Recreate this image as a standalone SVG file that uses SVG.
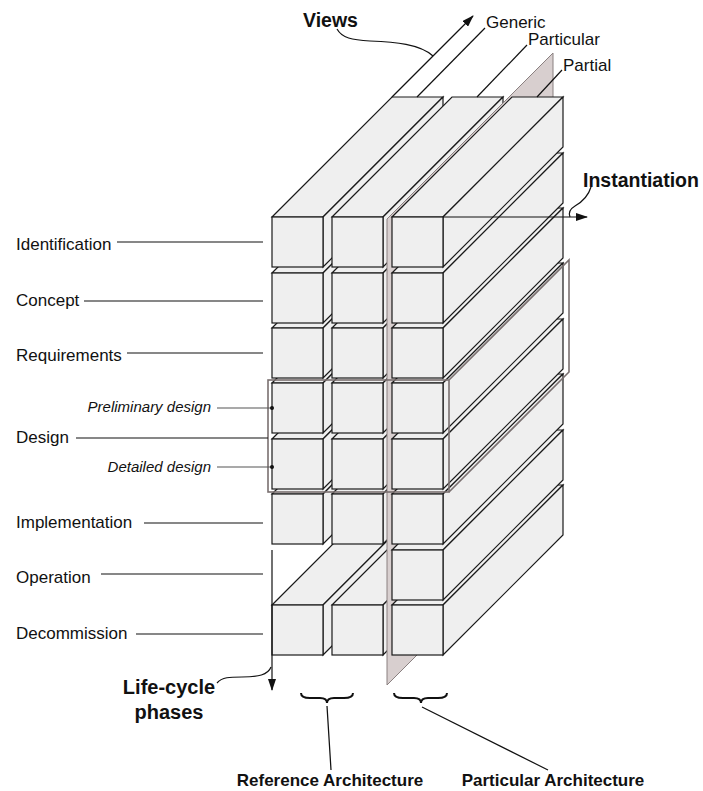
<svg xmlns="http://www.w3.org/2000/svg" width="703" height="791" viewBox="0 0 703 791">
  <defs>
    <style>
      .face{fill:#efefef;stroke:#1a1a1a;stroke-width:1.2;stroke-linejoin:miter}
      .lbl{font-family:"Liberation Sans",Arial,sans-serif;font-size:17px;fill:#111}
      .sub{font-style:italic;font-size:15px}
      .bold{font-weight:bold;font-size:20px}
      .ln{fill:none;stroke:#111;stroke-width:1.2}
      .gl{fill:none;stroke:#555;stroke-width:1.2}
      .brace{fill:none;stroke:#111;stroke-width:2}
      .box{fill:none;stroke:#7a7070;stroke-width:1.6}
      .plane{fill:#d8cfcf;stroke:#8a8080;stroke-width:1}
    </style>
    <!-- one beam: front face 51x50, extruded 120px along the 45deg depth axis -->
    <g id="beam">
      <polygon class="face" points="0,0 51,0 171,-120 120,-120"/>
      <polygon class="face" points="51,0 171,-120 171,-70 51,50"/>
      <rect class="face" x="0" y="0" width="51" height="50"/>
    </g>
    <marker id="ah" markerWidth="12" markerHeight="8" refX="11" refY="4" orient="auto" markerUnits="userSpaceOnUse">
      <path d="M0,0 L12,4 L0,8 z" fill="#111"/>
    </marker>
  </defs>

  <rect width="703" height="791" fill="#ffffff"/>

  <!-- generic column (drawn bottom row first) -->
  <g id="generic-decommission"><use href="#beam" x="272" y="605"/></g>
  <g id="generic-implementation"><use href="#beam" x="272" y="494"/></g>
  <g id="generic-detailed-design"><use href="#beam" x="272" y="439"/></g>
  <g id="generic-preliminary-design"><use href="#beam" x="272" y="383"/></g>
  <g id="generic-requirements"><use href="#beam" x="272" y="328"/></g>
  <g id="generic-concept"><use href="#beam" x="272" y="273"/></g>
  <g id="generic-identification"><use href="#beam" x="272" y="217"/></g>

  <!-- particular column -->
  <g id="particular-decommission"><use href="#beam" x="332" y="605"/></g>
  <g id="particular-implementation"><use href="#beam" x="332" y="494"/></g>
  <g id="particular-detailed-design"><use href="#beam" x="332" y="439"/></g>
  <g id="particular-preliminary-design"><use href="#beam" x="332" y="383"/></g>
  <g id="particular-requirements"><use href="#beam" x="332" y="328"/></g>
  <g id="particular-concept"><use href="#beam" x="332" y="273"/></g>
  <g id="particular-identification"><use href="#beam" x="332" y="217"/></g>

  <!-- instantiation plane between the two architectures -->
  <g id="instantiation-plane">
    <polygon class="plane" points="387,219 553,53 553,519 387,685"/>
  </g>

  <!-- partial column -->
  <g id="partial-decommission"><use href="#beam" x="392" y="605"/></g>
  <g id="partial-operation"><use href="#beam" x="392" y="550"/></g>
  <g id="partial-implementation"><use href="#beam" x="392" y="494"/></g>
  <g id="partial-detailed-design"><use href="#beam" x="392" y="439"/></g>
  <g id="partial-preliminary-design"><use href="#beam" x="392" y="383"/></g>
  <g id="partial-requirements"><use href="#beam" x="392" y="328"/></g>
  <g id="partial-concept"><use href="#beam" x="392" y="273"/></g>
  <g id="partial-identification"><use href="#beam" x="392" y="217"/></g>

  <!-- design phase group outline -->
  <g id="design-group">
    <rect class="box" x="268" y="380" width="181" height="112"/>
    <path class="box" d="M449,380 L569,260 L569,372 L449,492"/>
  </g>

  <!-- connectors -->
  <g id="connectors">
    <!-- axes -->
    <line class="ln" x1="392" y1="97" x2="473" y2="16" marker-end="url(#ah)"/>
    <line class="ln" x1="443" y1="217" x2="587" y2="217" marker-end="url(#ah)"/>
    <line class="ln" x1="272" y1="550" x2="272" y2="690" marker-end="url(#ah)"/>
    <!-- axis callouts -->
    <path class="ln" d="M337,29 C342,38 352,40 370,41 C395,42 420,44 433,56"/>
    <path class="ln" d="M591,187 C588,197 582,202 575,206 C570,209 568,212 570,217"/>
    <path class="ln" d="M217,683 C222,677 230,677 242,677 C258,677 268,675 271,667"/>
    <!-- view leaders -->
    <line class="ln" x1="485" y1="28" x2="417" y2="97"/>
    <line class="ln" x1="527" y1="45" x2="477" y2="97"/>
    <line class="ln" x1="562" y1="70" x2="537" y2="97"/>
    <!-- phase leaders -->
    <line class="ln" x1="117" y1="242" x2="263" y2="242"/>
    <line class="ln" x1="84" y1="301" x2="263" y2="301"/>
    <line class="ln" x1="127" y1="353" x2="263" y2="353"/>
    <line class="ln" x1="76" y1="438" x2="268" y2="438"/>
    <line class="gl" x1="217" y1="408" x2="272" y2="408"/>
    <circle cx="272" cy="408" r="2" fill="#111"/>
    <line class="gl" x1="217" y1="467" x2="272" y2="467"/>
    <circle cx="272" cy="467" r="2" fill="#111"/>
    <line class="ln" x1="144" y1="523" x2="263" y2="523"/>
    <line class="ln" x1="101" y1="574" x2="263" y2="574"/>
    <line class="ln" x1="136" y1="634" x2="263" y2="634"/>
    <!-- architecture braces -->
    <path class="brace" d="M301,693 Q301,698 310,698 L320,698 Q327,698 327,703 Q327,698 334,698 L344,698 Q353,698 353,693"/>
    <path class="brace" d="M394,693 Q394,698 403,698 L414,698 Q421,698 421,703 Q421,698 428,698 L438,698 Q447,698 447,693"/>
    <line class="ln" x1="327" y1="706" x2="331" y2="770"/>
    <line class="ln" x1="422" y1="707" x2="548" y2="770"/>
  </g>

  <!-- labels -->
  <g id="labels" class="lbl">
    <text class="bold" x="303" y="27" style="font-size:19.5px">Views</text>
    <text x="486" y="28">Generic</text>
    <text x="528" y="45">Particular</text>
    <text x="563" y="71">Partial</text>
    <text class="bold" x="583" y="187" style="font-size:19.5px">Instantiation</text>
    <text x="16" y="250">Identification</text>
    <text x="16" y="306">Concept</text>
    <text x="16" y="361">Requirements</text>
    <text class="sub" x="211" y="412" text-anchor="end">Preliminary design</text>
    <text x="16" y="443">Design</text>
    <text class="sub" x="211" y="472" text-anchor="end">Detailed design</text>
    <text x="16" y="528">Implementation</text>
    <text x="16" y="583">Operation</text>
    <text x="16" y="639">Decommission</text>
    <text class="bold" x="169" y="694" text-anchor="middle">Life-cycle</text>
    <text class="bold" x="169" y="719" text-anchor="middle">phases</text>
    <text x="330" y="786" text-anchor="middle" font-weight="bold">Reference Architecture</text>
    <text x="553" y="786" text-anchor="middle" font-weight="bold">Particular Architecture</text>
  </g>
</svg>
